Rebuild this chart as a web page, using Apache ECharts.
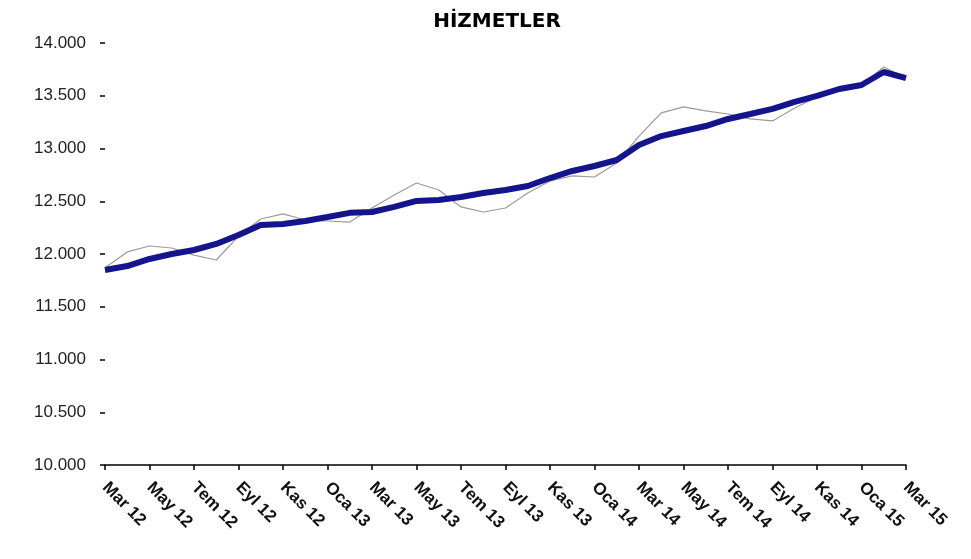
<!DOCTYPE html>
<html>
<head>
<meta charset="utf-8">
<script src="https://cdn.jsdelivr.net/npm/echarts@6/dist/echarts.min.js"></script>
<style>html,body{margin:0;padding:0;background:#fff;}#c{width:971px;height:559px;}</style>
</head>
<body>
<div id="c"></div>
<script>
const title = "HİZMETLER";
const months = [
  "Mar 12","Nis 12","May 12","Haz 12","Tem 12","Ağu 12","Eyl 12","Eki 12","Kas 12","Ara 12",
  "Oca 13","Şub 13","Mar 13","Nis 13","May 13","Haz 13","Tem 13","Ağu 13","Eyl 13","Eki 13","Kas 13","Ara 13",
  "Oca 14","Şub 14","Mar 14","Nis 14","May 14","Haz 14","Tem 14","Ağu 14","Eyl 14","Eki 14","Kas 14","Ara 14",
  "Oca 15","Şub 15","Mar 15"
];
const rawSeries = [
  11870, 12020, 12076, 12057, 11990, 11943, 12170, 12332, 12380, 12322,
  12313, 12303, 12436, 12560, 12673, 12607, 12446, 12398, 12436, 12578, 12692, 12740,
  12730, 12863, 13118, 13337, 13394, 13356, 13327, 13280, 13261, 13384, 13489, 13564,
  13602, 13773, 13668
];
const trendSeries = [
  11848, 11886, 11953, 12000, 12038, 12095, 12180, 12275, 12285, 12313,
  12351, 12390, 12398, 12446, 12503, 12512, 12540, 12578, 12607, 12645, 12720, 12787,
  12834, 12891, 13034, 13118, 13166, 13213, 13280, 13327, 13375, 13441, 13498, 13564,
  13602, 13725, 13668
];
const yMin = 10000, yMax = 14000, yStep = 500;

const chart = echarts.init(document.getElementById('c'));
chart.setOption({
  animation: false,
  backgroundColor: '#ffffff',
  title: {
    text: title,
    left: 492, top: 7, textAlign: 'center',
    textStyle: { fontFamily: 'DejaVu Sans', fontWeight: 'bold', fontSize: 20, color: '#000' }
  },
  grid: { left: 105, right: 65, top: 43, bottom: 94 },
  xAxis: {
    type: 'category',
    data: months,
    boundaryGap: false,
    axisLine: { show: true, lineStyle: { color: '#000', width: 1.5 } },
    axisTick: { show: true, interval: 1, length: 5, lineStyle: { color: '#000', width: 1.5 } },
    axisLabel: {
      interval: 1, rotate: -45, margin: 20,
      fontFamily: 'Liberation Sans, Arial', fontWeight: 'bold', fontSize: 17, color: '#111'
    },
    splitLine: { show: false }
  },
  yAxis: {
    type: 'value',
    min: yMin, max: yMax, interval: yStep,
    axisLine: { show: false },
    axisTick: { show: true, length: 5, lineStyle: { color: '#000', width: 1.5 } },
    axisLabel: {
      margin: 19,
      fontFamily: 'Liberation Sans, Arial', fontSize: 17, color: '#222',
      formatter: v => String(v).replace(/\B(?=(\d{3})+(?!\d))/g, '.')
    },
    splitLine: { show: false }
  },
  series: [
    {
      name: 'raw', type: 'line', data: rawSeries, symbol: 'none',
      lineStyle: { color: '#9a9a9a', width: 1.2 }, z: 2
    },
    {
      name: 'trend', type: 'line', data: trendSeries, symbol: 'none',
      lineStyle: { color: '#14148c', width: 6 }, z: 3
    }
  ]
});
</script>
</body>
</html>
